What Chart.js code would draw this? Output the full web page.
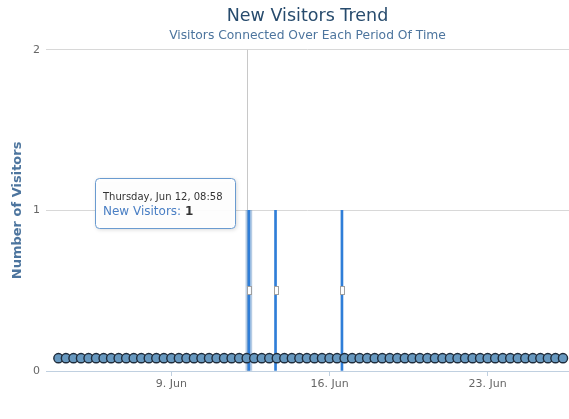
<!DOCTYPE html>
<html>
<head>
<meta charset="utf-8">
<title>New Visitors Trend</title>
<script src="https://cdn.jsdelivr.net/npm/chart.js@4.4.1/dist/chart.umd.min.js"></script>
<style>
  body { margin: 0; background: #fff; }
  #wrap { width: 569px; height: 419px; }
</style>
</head>
<body>
<div id="wrap"><canvas id="myChart" width="569" height="419"></canvas></div>
<script>
// daten (x = tag im juni, 9 = 9. Jun 00:00)
var startDay = 4;
var stepDays = 1 / 3; // alle 8 stunden ein punkt
var visitorValues = [
  0.08, 0.08, 0.08, 0.08, 0.08, 0.08, 0.08, 0.08, 0.08, 0.08,
  0.08, 0.08, 0.08, 0.08, 0.08, 0.08, 0.08, 0.08, 0.08, 0.08,
  0.08, 0.08, 0.08, 0.08, 0.08, 0.08, 0.08, 0.08, 0.08, 0.08,
  0.08, 0.08, 0.08, 0.08, 0.08, 0.08, 0.08, 0.08, 0.08, 0.08,
  0.08, 0.08, 0.08, 0.08, 0.08, 0.08, 0.08, 0.08, 0.08, 0.08,
  0.08, 0.08, 0.08, 0.08, 0.08, 0.08, 0.08, 0.08, 0.08, 0.08,
  0.08, 0.08, 0.08, 0.08, 0.08, 0.08, 0.08, 0.08
];
var spikeDays = [12.43, 13.61, 16.55];
var spikeValues = [1, 1, 1];
var tickDays = [9, 16, 23];
var tickLabels = ["9. Jun", "16. Jun", "23. Jun"];
var yTicks = [0, 1, 2];
var tooltipTitle = "Thursday, Jun 12, 08:58";
var tooltipLabel = "New Visitors: ";
var tooltipValue = "1";

var baseData = [];
for (var i = 0; i < visitorValues.length; i++) {
  baseData.push({ x: startDay + i * stepDays, y: visitorValues[i] });
}
var spikeData = [];
for (var j = 0; j < spikeDays.length; j++) {
  spikeData.push({ x: spikeDays[j], y: spikeValues[j] });
}

var fontFam = "'DejaVu Sans', Verdana, sans-serif";

// kleine marker in der mitte der spitzen, fadenkreuz und tooltip
var extras = {
  id: "extras",
  beforeDatasetsDraw: function(chart) {
    var ctx = chart.ctx;
    var area = chart.chartArea;
    var x = chart.scales.x.getPixelForValue(spikeDays[0]);
    ctx.save();
    ctx.strokeStyle = "#c8c8c8";
    ctx.lineWidth = 1;
    ctx.beginPath();
    ctx.moveTo(Math.round(x) - 1.5, area.top);
    ctx.lineTo(Math.round(x) - 1.5, area.bottom);
    ctx.stroke();
    ctx.restore();
  },
  afterDraw: function(chart) {
    var ctx = chart.ctx;
    var meta = chart.getDatasetMeta(1);
    ctx.save();
    meta.data.forEach(function(el) {
      var my = (el.y + el.base) / 2;
      ctx.fillStyle = "#ffffff";
      ctx.strokeStyle = "#a0a0a0";
      ctx.lineWidth = 1;
      ctx.fillRect(el.x - 2, my - 4, 4, 8);
      ctx.strokeRect(Math.round(el.x - 2) + 0.5, Math.round(my - 4) + 0.5, 4, 8);
    });

    // tooltip
    var px = chart.scales.x.getPixelForValue(spikeDays[0]);
    var py = chart.scales.y.getPixelForValue(spikeValues[0]);
    var w = 140, h = 50;
    var bx = Math.round(px - 14 - w), by = Math.round(py - 32);
    ctx.shadowColor = "rgba(0,0,0,0.18)";
    ctx.shadowBlur = 4;
    ctx.shadowOffsetX = 1;
    ctx.shadowOffsetY = 1;
    ctx.fillStyle = "rgba(255,255,255,0.95)";
    ctx.beginPath();
    ctx.roundRect(bx + 0.5, by + 0.5, w, h, 4);
    ctx.fill();
    ctx.shadowColor = "transparent";
    ctx.strokeStyle = "#6a9bd0";
    ctx.lineWidth = 1;
    ctx.stroke();

    ctx.textBaseline = "middle";
    ctx.textAlign = "left";
    ctx.fillStyle = "#333333";
    ctx.font = "10px " + fontFam;
    ctx.fillText(tooltipTitle, bx + 8, by + 19);
    ctx.font = "12px " + fontFam;
    ctx.fillStyle = "#4a7fc4";
    ctx.fillText(tooltipLabel, bx + 8, by + 34);
    var lw = ctx.measureText(tooltipLabel).width;
    ctx.font = "bold 12px " + fontFam;
    ctx.fillStyle = "#333333";
    ctx.fillText(tooltipValue, bx + 8 + lw, by + 34);
    ctx.restore();
  }
};

var chart = new Chart("myChart", {
  data: {
    datasets: [{
      type: "bar",
      label: "Halo",
      data: [spikeData[0]],
      backgroundColor: "rgba(90,140,195,0.45)",
      barThickness: 6,
      grouped: false,
      order: 3
    }, {
      type: "bar",
      label: "Spitzen",
      data: spikeData,
      backgroundColor: "#2f7ed8",
      barThickness: 2,
      grouped: false,
      order: 2
    }, {
      type: "line",
      label: "New Visitors",
      data: baseData,
      borderColor: "#1b2633",
      borderWidth: 2,
      pointRadius: 4.6,
      pointBackgroundColor: "#6798bf",
      pointBorderColor: "#1e2b3a",
      pointBorderWidth: 1.4,
      fill: false,
      clip: false,
      order: 1
    }]
  },
  plugins: [extras],
  options: {
    responsive: false,
    animation: false,
    layout: { padding: 0, autoPadding: false },
    plugins: {
      legend: { display: false },
      tooltip: { enabled: false },
      title: {
        display: true,
        text: "New Visitors Trend",
        fullSize: false,
        color: "#274b6d",
        font: { family: fontFam, size: 17.5, weight: "normal" },
        padding: { top: 6, bottom: 0 }
      },
      subtitle: {
        display: true,
        text: "Visitors Connected Over Each Period Of Time",
        fullSize: false,
        color: "#4d759e",
        font: { family: fontFam, size: 12.3 },
        padding: { top: 1, bottom: 7 }
      }
    },
    scales: {
      x: {
        type: "linear",
        offset: false,
        min: 3.45,
        max: 26.6,
        afterBuildTicks: function(axis) {
          axis.ticks = tickDays.map(function(v) { return { value: v }; });
        },
        afterFit: function(axis) {
          axis.height = 48;
          axis.paddingRight = 0;
          axis.paddingLeft = 0;
        },
        ticks: {
          color: "#666666",
          font: { family: fontFam, size: 11 },
          padding: 2,
          maxRotation: 0,
          callback: function(value) {
            var k = tickDays.indexOf(value);
            return k >= 0 ? tickLabels[k] : "";
          }
        },
        grid: { drawOnChartArea: false, offset: false, color: "#c0d0e0", tickLength: 5 },
        border: { color: "#c0d0e0", width: 1 }
      },
      y: {
        min: 0,
        max: 2,
        afterBuildTicks: function(axis) {
          axis.ticks = yTicks.map(function(v) { return { value: v }; });
        },
        afterFit: function(axis) { axis.width = 46; },
        title: {
          display: true,
          text: "Number of Visitors",
          color: "#4d759e",
          font: { family: fontFam, size: 13, weight: "bold" },
          padding: { top: 10, bottom: 0 }
        },
        ticks: {
          color: "#666666",
          font: { family: fontFam, size: 11 },
          padding: 6
        },
        grid: { color: "#d8d8d8", drawTicks: false },
        border: { display: false }
      }
    }
  }
});
</script>
</body>
</html>
